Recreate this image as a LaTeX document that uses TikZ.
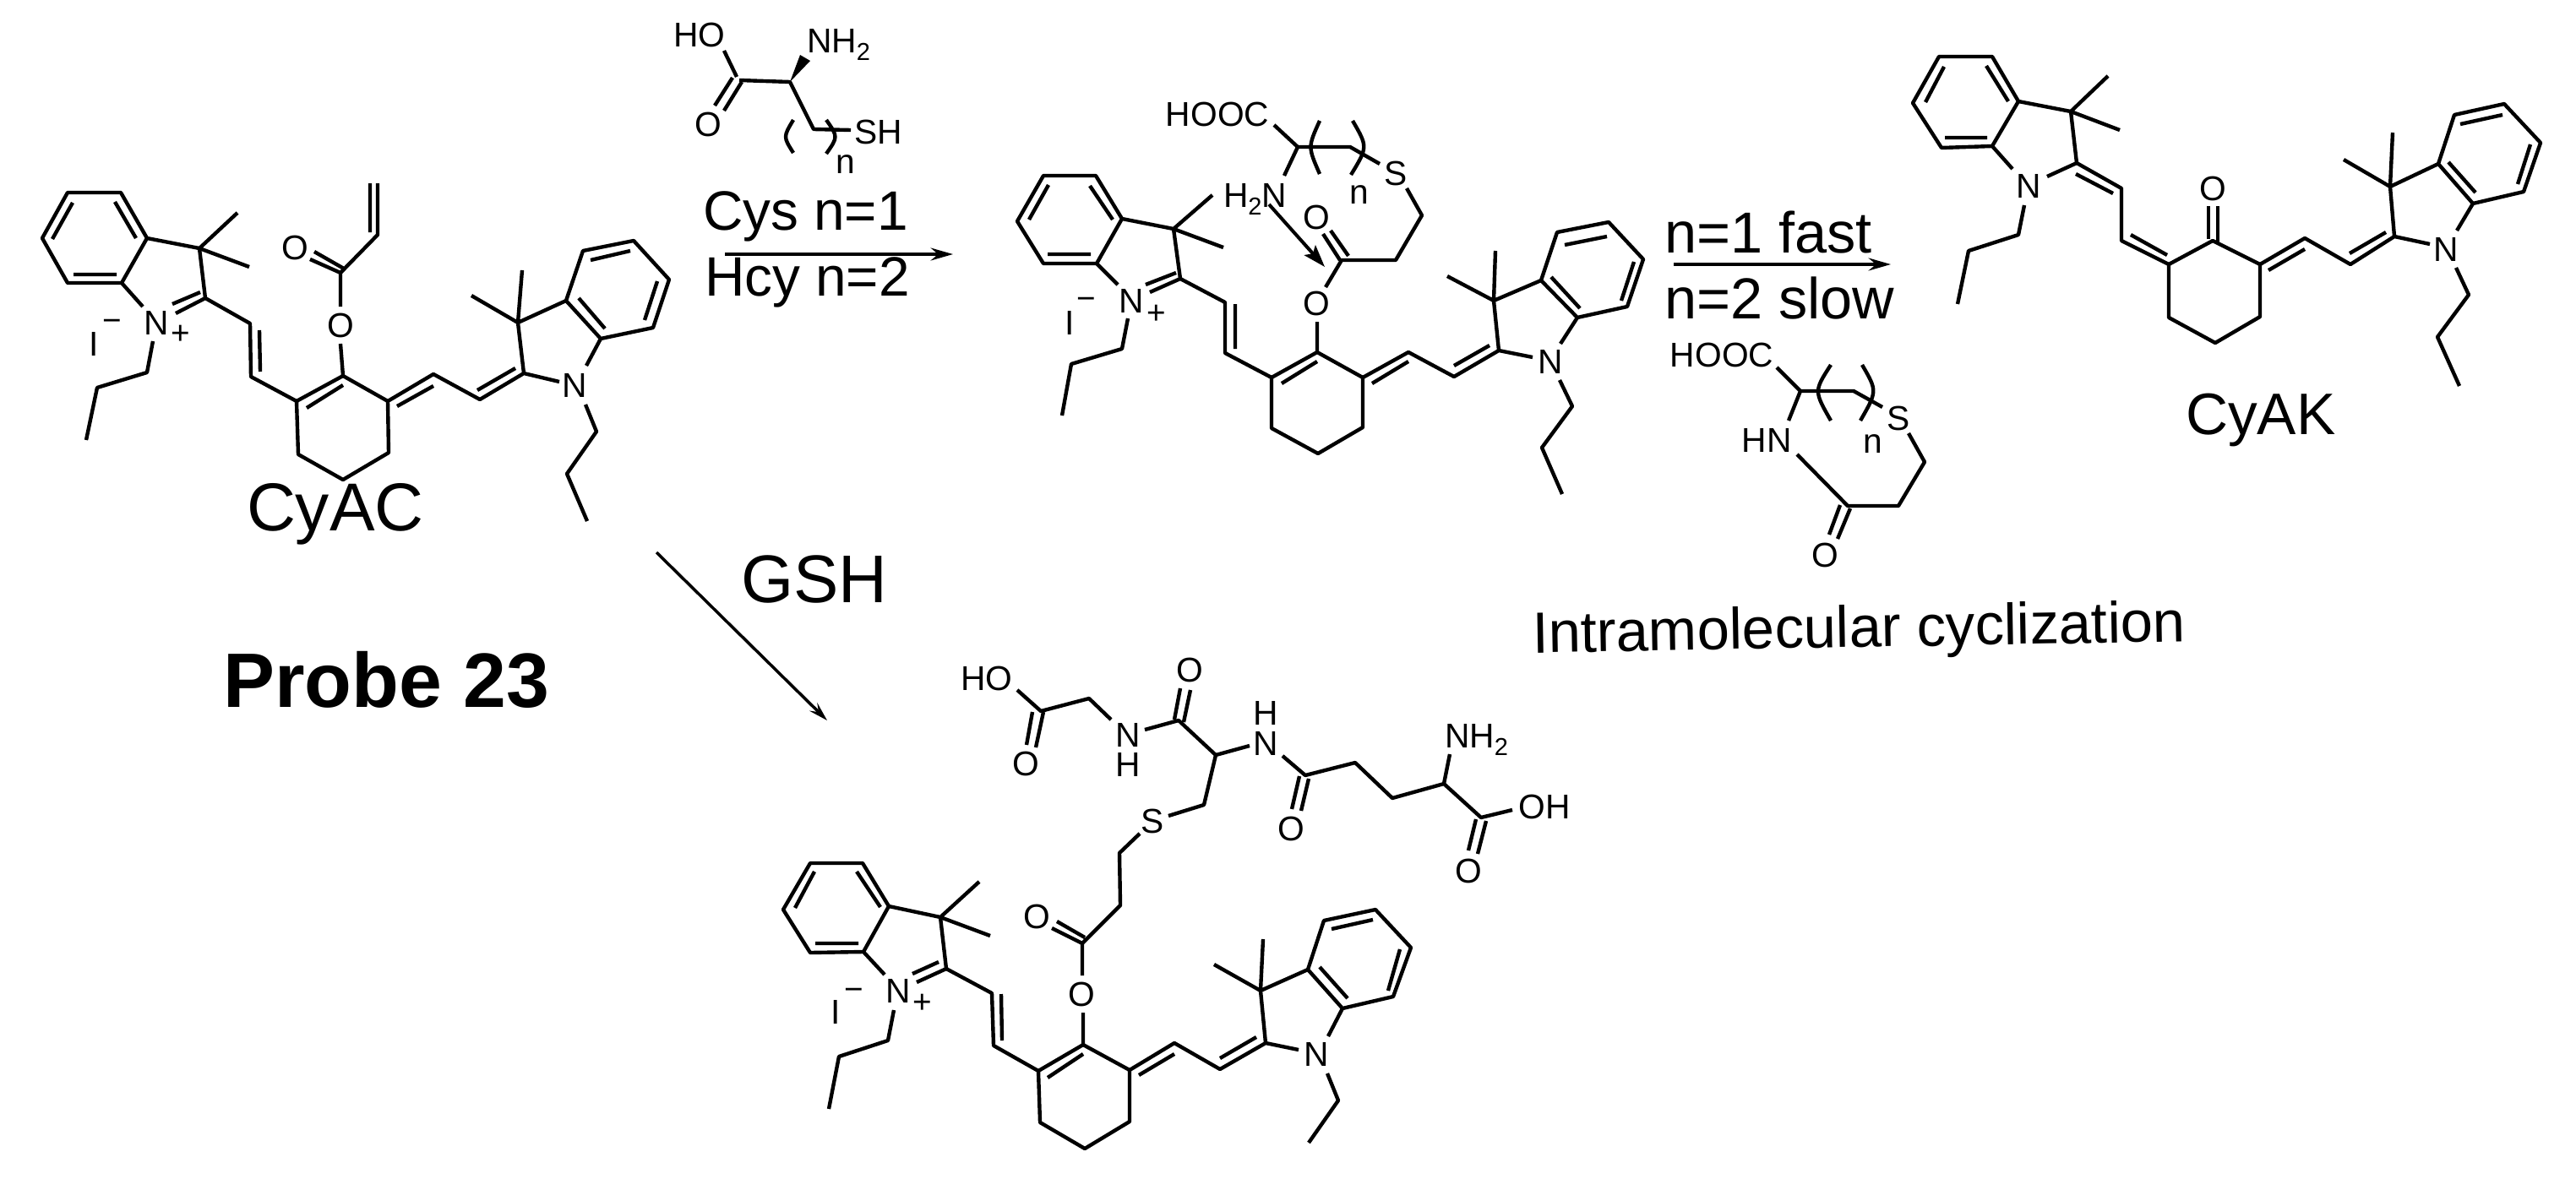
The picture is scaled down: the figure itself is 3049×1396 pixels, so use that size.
\documentclass[tikz,border=0pt]{standalone}
\usepackage{fontspec}
\setmainfont{Liberation Sans}
\usetikzlibrary{arrows.meta}
\newcommand{\fpt}[1]{\fontsize{#1}{#1}\selectfont}
\newcommand{\subtwo}{\raisebox{-0.24em}{\fpt{16.5}2}}
\tikzset{
  bond/.style={line width=2.5pt,line join=round},
  rxn/.style={line width=2pt,-{Stealth[length=15pt,width=8.5pt,inset=5pt]}},
  rxnthin/.style={line width=2pt,-{Stealth[length=13pt,width=7.5pt,inset=5pt]}},
  lbl/.style={inner sep=0pt,outer sep=0pt,font=\fpt{23.2}},
  atom/.style={lbl,text height=16.6pt,text depth=0pt,anchor=center},
  big/.style={inner sep=0pt,outer sep=0pt,anchor=base west,font=\fpt{39}},
  huge/.style={inner sep=0pt,outer sep=0pt,anchor=base west,font=\fpt{45.7}},
}
\begin{document}
\begin{tikzpicture}[x=0.02cm,y=-0.02cm]
\useasboundingbox (0,0) rectangle (3049,1396);
\fill[white] (0,0) rectangle (3049,1396);

% ---------- Molecule A: CyAC ----------
\draw[bond] (80,228)--(143,228)--(174,282)--(144,335)--(80,335)--(50,282)--cycle;
\draw[bond] (136,239)--(161,282) (87,325)--(138,325) (86,240)--(62,283);
\draw[bond] (174,282)--(236,294)--(243,353) (281,252)--(236,294)--(295,316);
\draw[bond] (144,335)--(169,363);
\draw[bond] (208,371)--(243,353)--(296,383)--(297,446)--(351,475);
\draw[bond] (204,360)--(237,346) (307,391)--(308,440);
\draw[bond] (351,475)--(406,445)--(459,475)--(460,536)--(406,568)--(353,538)--cycle;
\draw[bond] (363,483)--(406,456);
\draw[bond] (406,445)--(403,407) (403,363)--(403,323)--(367,307);
\draw[bond] (372,298)--(407,318) (403,323)--(447,278)--(447,217) (438,275)--(438,217);
\draw[bond] (459,475)--(513,443)--(568,473)--(620,442)--(662,452);
\draw[bond] (470,481)--(513,457) (565,462)--(610,436);
\draw[bond] (620,442)--(613,382)--(670,356) (558,350)--(613,382)--(618,320);
\draw[bond] (670,356)--(690,297)--(750,285)--(792,331)--(773,388)--(711,401)--cycle;
\draw[bond] (699,308)--(746,297) (778,333)--(763,379) (685,353)--(716,389);
\draw[bond] (711,401)--(694,433) (693,479)--(706,511)--(671,561)--(695,617);
\draw[bond] (181,404)--(174,441)--(115,459)--(102,521);
\node[atom] (aN1) at (185,382) {N};
\node[lbl,font=\fpt{22}] (aplus) at (214,396) {+};
\node[atom] (aI) at (111,407) {I};
\node[lbl,font=\fpt{22}] (aminus) at (133,385) {−};
\node[atom] (aO1) at (403,385) {O};
\node[atom] (aO2) at (349,293) {O};
\node[atom] (aN2) at (680,456) {N};
\node[huge] (aname) at (292,628) {CyAC};

% ---------- Molecule B ----------
\draw[bond] (1235,208)--(1297,208)--(1328,259)--(1298,312)--(1235,312)--(1204,262)--cycle;
\draw[bond] (1290,220)--(1317,260) (1240,301)--(1291,301) (1241,219)--(1218,260);
\draw[bond] (1328,259)--(1389,271)--(1397,330) (1435,231)--(1389,271)--(1448,293);
\draw[bond] (1298,312)--(1323,337);
\draw[bond] (1361,346)--(1397,330)--(1450,358)--(1450,418)--(1505,447);
\draw[bond] (1356,337)--(1392,323) (1462,360)--(1462,413);
\draw[bond] (1505,447)--(1559,417)--(1613,447)--(1613,506)--(1560,537)--(1505,507)--cycle;
\draw[bond] (1517,454)--(1559,428);
\draw[bond] (1559,417)--(1559,381) (1569,340)--(1588,308)--(1652,308)--(1683,255)--(1665,223);
\draw[bond] (1566,277)--(1586,308) (1575,273)--(1596,303);
\draw[bond] (1633,194)--(1598,174)--(1536,174)--(1508,148) (1536,174)--(1520,208);
\draw[bond] (1562,143) .. controls (1548,174) .. (1562,206);
\draw[bond] (1601,143) .. controls (1619,174) .. (1599,207);
\draw[bond] (1613,447)--(1667,417)--(1721,446)--(1774,415)--(1814,423);
\draw[bond] (1624,454)--(1667,428) (1721,433)--(1763,409);
\draw[bond] (1774,415)--(1768,356)--(1824,332) (1713,327)--(1768,356)--(1770,297);
\draw[bond] (1824,332)--(1843,275)--(1904,263)--(1945,307)--(1926,363)--(1867,376)--cycle;
\draw[bond] (1852,290)--(1902,280) (1934,310)--(1919,356) (1836,328)--(1870,365);
\draw[bond] (1867,376)--(1847,407) (1846,450)--(1861,481)--(1825,530)--(1849,585);
\draw[bond] (1335,377)--(1328,413)--(1268,431)--(1257,492);
\node[atom] (bN1) at (1339,356) {N};
\node[lbl,font=\fpt{22}] (bplus) at (1369,372) {+};
\node[atom] (bI) at (1266,382) {I};
\node[lbl,font=\fpt{22}] (bminus) at (1286,359) {−};
\node[atom] (bO1) at (1558,359) {O};
\node[atom] (bO2) at (1558,257) {O};
\node[atom] (bS) at (1652,205) {S};
\node[atom] (bHOOC) at (1441,135) {HOOC};
\node[lbl,anchor=base west] (bH2N) at (1448,245) {H\subtwo N};
\node[lbl,anchor=base west] (bn) at (1597,241) {n};
\node[atom] (bN2) at (1835,428) {N};
\coordinate (battackA) at (1502,242);
\coordinate (battackB) at (1568,316);
\draw[line width=2.3pt,-{Stealth[length=15pt,width=10pt,inset=3pt]}] (battackA)--(battackB);

% ---------- Molecule C: CyAK ----------
\draw[bond] (2295,67)--(2358,67)--(2389,120)--(2358,173)--(2298,175)--(2264,122)--cycle;
\draw[bond] (2351,78)--(2377,120) (2302,163)--(2352,163) (2301,79)--(2279,121);
\draw[bond] (2389,120)--(2451,132)--(2458,193) (2495,90)--(2451,132)--(2509,154);
\draw[bond] (2358,173)--(2382,200);
\draw[bond] (2423,209)--(2458,193)--(2511,223)--(2511,285)--(2567,313);
\draw[bond] (2457,206)--(2501,229) (2522,278)--(2565,302);
\draw[bond] (2567,313)--(2619,285)--(2675,313)--(2675,375)--(2622,406)--(2567,376)--cycle;
\draw[bond] (2614,244)--(2614,283) (2625,244)--(2625,287);
\draw[bond] (2675,313)--(2728,282)--(2782,313)--(2834,280)--(2876,289);
\draw[bond] (2685,320)--(2728,295) (2781,300)--(2824,275);
\draw[bond] (2834,280)--(2829,221)--(2886,194) (2774,189)--(2829,221)--(2832,157);
\draw[bond] (2886,194)--(2905,136)--(2964,123)--(3007,169)--(2987,227)--(2927,241)--cycle;
\draw[bond] (2912,147)--(2962,136) (2995,171)--(2980,218) (2898,192)--(2930,228);
\draw[bond] (2927,241)--(2908,273) (2907,317)--(2922,349)--(2885,399)--(2911,457);
\draw[bond] (2396,243)--(2389,278)--(2330,297)--(2317,360);
\node[atom] (cN1) at (2401,220) {N};
\node[atom] (cO) at (2619,223) {O};
\node[atom] (cN2) at (2895,295) {N};
\node[big,font=\fpt{39.5}] (cname) at (2587,514) {CyAK};

% ---------- Molecule D: GSH adduct ----------
\draw[bond] (959,1022)--(1021,1022)--(1052,1073)--(1022,1127)--(959,1128)--(927,1077)--cycle;
\draw[bond] (1014,1032)--(1042,1074) (965,1117)--(1016,1117) (964,1032)--(941,1075);
\draw[bond] (1052,1073)--(1113,1086)--(1120,1147) (1159,1044)--(1113,1086)--(1172,1108);
\draw[bond] (1022,1127)--(1047,1154);
\draw[bond] (1085,1163)--(1120,1147)--(1174,1176)--(1176,1238)--(1229,1268);
\draw[bond] (1080,1153)--(1111,1139) (1185,1177)--(1186,1232);
\draw[bond] (1229,1268)--(1282,1237)--(1337,1267)--(1337,1328)--(1284,1360)--(1231,1329)--cycle;
\draw[bond] (1240,1276)--(1282,1248);
\draw[bond] (1282,1237)--(1282,1199) (1281,1155)--(1281,1117)--(1245,1099);
\draw[bond] (1251,1091)--(1284,1110) (1281,1117)--(1326,1072)--(1325,1010)--(1349,987);
\draw[bond] (1337,1267)--(1390,1235)--(1444,1266)--(1498,1235)--(1537,1243);
\draw[bond] (1348,1273)--(1390,1248) (1444,1253)--(1487,1228);
\draw[bond] (1498,1235)--(1492,1173)--(1548,1148) (1437,1142)--(1492,1173)--(1495,1112);
\draw[bond] (1548,1148)--(1567,1090)--(1628,1077)--(1670,1122)--(1649,1180)--(1589,1194)--cycle;
\draw[bond] (1576,1100)--(1625,1089) (1657,1124)--(1643,1173) (1562,1145)--(1595,1182);
\draw[bond] (1589,1194)--(1572,1227) (1571,1271)--(1584,1303)--(1549,1353);
\draw[bond] (1058,1196)--(1051,1232)--(993,1251)--(981,1313);
\draw[bond] (1204,817)--(1232,842)--(1289,827)--(1315,852);
\draw[bond] (1222,843)--(1215,882) (1235,843)--(1226,885);
\draw[bond] (1355,864)--(1395,853)--(1439,894)--(1479,883);
\draw[bond] (1390,852)--(1397,815) (1401,855)--(1409,817);
\draw[bond] (1518,895)--(1545,918)--(1604,903)--(1648,945)--(1709,928)--(1753,968)--(1790,959);
\draw[bond] (1538,919)--(1529,958) (1549,922)--(1540,960);
\draw[bond] (1709,928)--(1716,893);
\draw[bond] (1747,970)--(1738,1007) (1759,972)--(1749,1011);
\draw[bond] (1439,894)--(1425,953)--(1383,966);
\node[atom] (dN1) at (1063,1173) {N};
\node[lbl,font=\fpt{22}] (dplus) at (1092,1188) {+};
\node[atom] (dI) at (989,1198) {I};
\node[lbl,font=\fpt{22}] (dminus) at (1011,1177) {−};
\node[atom] (dO1) at (1280,1177) {O};
\node[atom] (dO2) at (1227,1085) {O};
\node[atom] (dN2) at (1558,1248) {N};
\node[atom] (dHO) at (1168,803) {HO};
\node[atom] (dO3) at (1214,904) {O};
\node[atom] (dN3) at (1335,870) {N};
\node[atom] (dH3) at (1335,905) {H};
\node[atom] (dO4) at (1408,793) {O};
\node[atom] (dN4) at (1498,880) {N};
\node[atom] (dH4) at (1498,844) {H};
\node[atom] (dO5) at (1528,981) {O};
\node[lbl,anchor=base west] (dNH2) at (1710,885) {NH\subtwo};
\node[atom] (dOH) at (1828,955) {OH};
\node[atom] (dO6) at (1738,1031) {O};
\node[atom] (dS) at (1364,972) {S};

% ---------- Cys / Hcy reagent ----------
\draw[bond] (857,60)--(872,91) (867,92)--(846,125) (878,97)--(857,131);
\draw[bond] (875,95)--(935,97)--(963,153)--(1007,154);
\fill (935,97)--(947,65)--(959,72)--cycle;
\draw[bond] (939,142) .. controls (927,162) .. (939,181);
\draw[bond] (978,142) .. controls (992,162) .. (978,182);
\node[atom] (eHO) at (828,41) {HO};
\node[atom] (eO) at (838,147) {O};
\node[lbl,anchor=base west] (eNH2) at (955,62) {NH\subtwo};
\node[atom] (eSH) at (1040,156) {SH};
\node[lbl,anchor=base west] (en) at (989,205) {n};
\node[big,font=\fpt{37.4}] (ecys) at (832,272) {Cys n=1};
\node[big,font=\fpt{37.4}] (ehcy) at (834,350) {Hcy n=2};
\coordinate (r1a) at (858,301);
\coordinate (r1b) at (1128,301);
\draw[rxn] (r1a)--(r1b);

% ---------- Cyclised by-product ----------
\draw[bond] (2103,435)--(2131,463)--(2194,463)--(2228,482) (2131,463)--(2117,498);
\draw[bond] (2127,538)--(2187,599)--(2247,599)--(2278,547)--(2259,513);
\draw[bond] (2178,598)--(2165,633) (2190,602)--(2175,638);
\draw[bond] (2167,432) .. controls (2147,463) .. (2167,498);
\draw[bond] (2204,432) .. controls (2222,463) .. (2202,498);
\node[atom] (fHOOC) at (2038,420) {HOOC};
\node[atom] (fS) at (2247,495) {S};
\node[atom] (fHN) at (2091,521) {HN};
\node[atom] (fO) at (2160,657) {O};
\node[lbl,anchor=base west] (fn) at (2205,536) {n};
\node[big] (ffast) at (1970,299) {n=1 fast};
\node[big] (fslow) at (1970,377) {n=2 slow};
\coordinate (r2a) at (1981,313);
\coordinate (r2b) at (2238,313);
\draw[rxn] (r2a)--(r2b);

% ---------- Captions and GSH arrow ----------
\node[big,font=\fpt{39.2},rotate=1] (tintra) at (1814,773) {Intramolecular cyclization};
\node[inner sep=0pt,anchor=base west,font=\fpt{52}\bfseries] (tprobe) at (264,837) {Probe 23};
\node[inner sep=0pt,anchor=base west,font=\fpt{45.5}] (tgsh) at (877,713) {GSH};
\coordinate (r3a) at (777,654);
\coordinate (r3b) at (979,853);
\draw[rxnthin] (r3a)--(r3b);
\end{tikzpicture}
\end{document}
